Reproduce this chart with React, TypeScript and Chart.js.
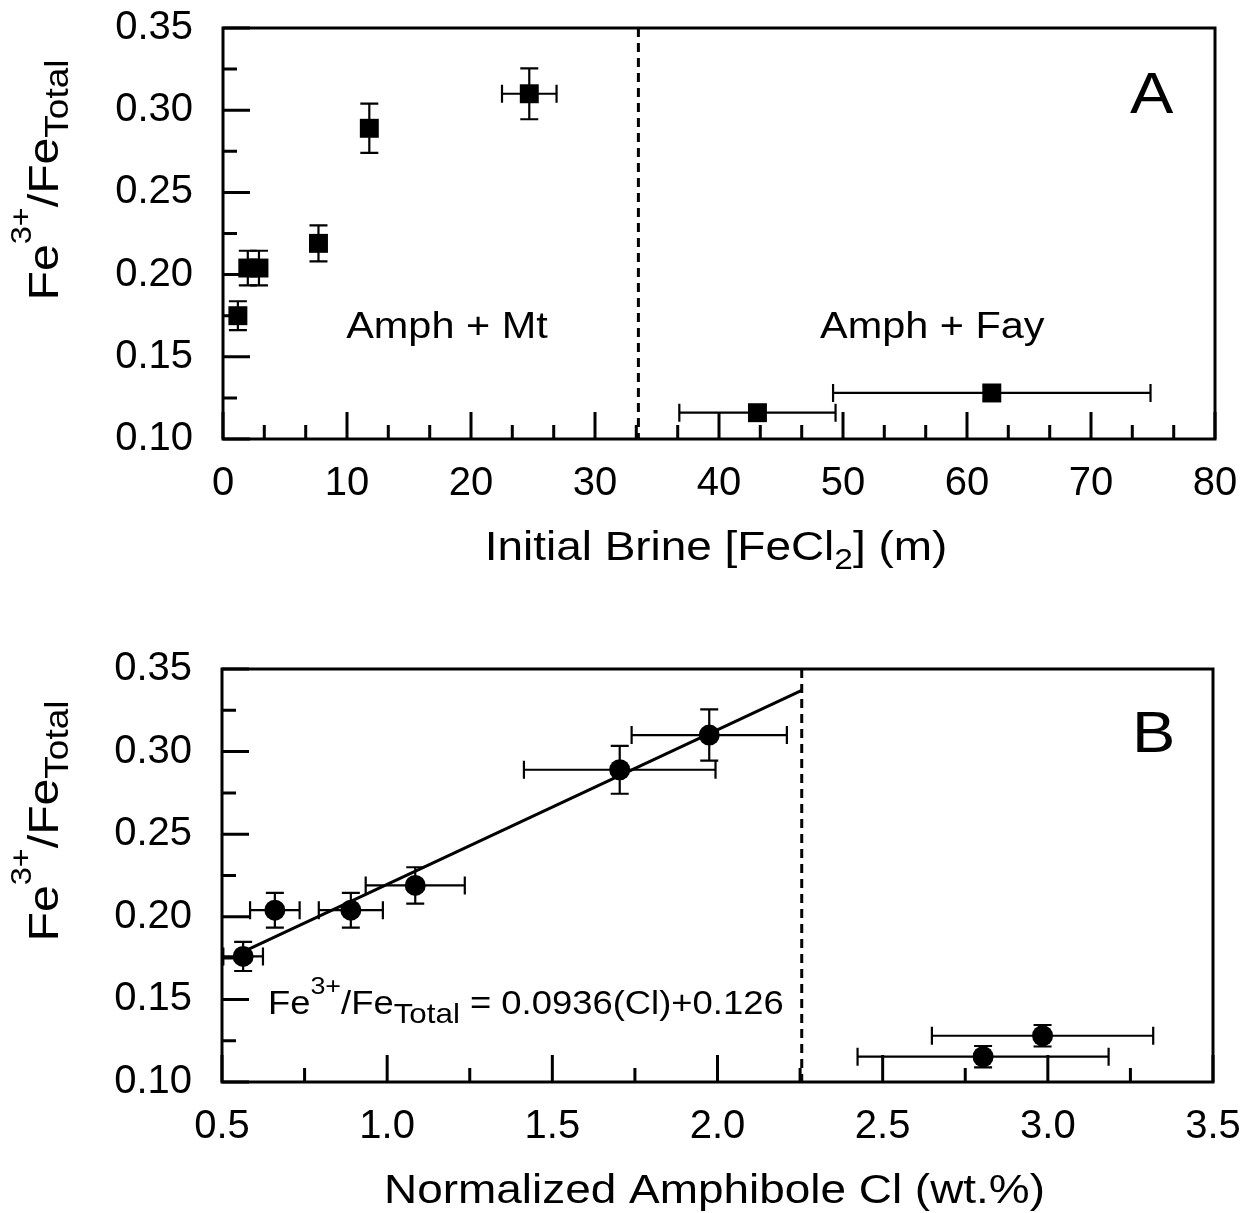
import React, { useEffect, useRef } from "react";
import { Chart, registerables } from "chart.js";

Chart.register(...registerables);

const FONT = "'Liberation Sans', Arial, Helvetica, sans-serif";
const STRETCH = 1.12;

// ---------------- Panel A data ----------------
const brineFeCl2 = [1.2, 2.0, 2.9, 7.7, 11.8, 24.7, 43.1, 62.0];
const brineFeCl2Err = [0, 0, 0, 0, 0, 2.2, 6.3, 12.8];
const ferricA = [0.175, 0.204, 0.204, 0.219, 0.289, 0.31, 0.116, 0.128];
const ferricAErr = [0.0088, 0.0105, 0.0105, 0.011, 0.015, 0.0155, 0.004, 0.004];
const boundaryA = 33.5;

const xMajorA = [0, 10, 20, 30, 40, 50, 60, 70, 80];
const xMinorA = [3.33, 6.67, 13.33, 16.67, 23.33, 26.67, 33.33, 36.67, 43.33, 46.67, 53.33, 56.67, 63.33, 66.67, 73.33, 76.67];

// ---------------- Panel B data ----------------
const amphCl = [0.564, 0.66, 0.89, 1.085, 1.704, 1.975, 2.804, 2.984];
const amphClErr = [0.06, 0.075, 0.097, 0.15, 0.29, 0.235, 0.38, 0.335];
const ferricB = [0.176, 0.204, 0.204, 0.219, 0.289, 0.31, 0.1153, 0.128];
const ferricBErr = [0.0088, 0.0105, 0.0105, 0.011, 0.0145, 0.0155, 0.0065, 0.0065];
const fitSlope = 0.0936;
const fitIntercept = 0.126;
const fitRange = [0.56, 2.255];
const boundaryB = 2.255;

const xMajorB = [0.5, 1.0, 1.5, 2.0, 2.5, 3.0, 3.5];
const xMinorB = [0.75, 1.25, 1.75, 2.25, 2.75, 3.25];

const yMajor = [0.1, 0.15, 0.2, 0.25, 0.3, 0.35];
const yMinor = [0.125, 0.175, 0.225, 0.275, 0.325];

type Seg = { t: string; s: number; dy: number };

function drawRich(ctx: CanvasRenderingContext2D, segs: Seg[], x: number, y: number, align: string, rot = 0) {
  ctx.save();
  ctx.translate(x, y);
  ctx.rotate(rot);
  ctx.scale(STRETCH, 1);
  let total = 0;
  const widths = segs.map((sg) => {
    ctx.font = `${sg.s}px ${FONT}`;
    const w = ctx.measureText(sg.t).width;
    total += w;
    return w;
  });
  let cx = align === "center" ? -total / 2 : 0;
  ctx.textAlign = "left";
  ctx.textBaseline = "alphabetic";
  ctx.fillStyle = "#000";
  segs.forEach((sg, i) => {
    ctx.font = `${sg.s}px ${FONT}`;
    ctx.fillText(sg.t, cx, sg.dy);
    cx += widths[i];
  });
  ctx.restore();
}

const yTitleSegs: Seg[] = [
  { t: "Fe", s: 43, dy: 0 },
  { t: "3+", s: 29, dy: -27 },
  { t: "/Fe", s: 43, dy: 0 },
  { t: "Total", s: 33, dy: 10 },
];

type TextItem = { x: number; y: number; segs: Seg[]; align: string };

type PanelSpec = {
  height: number;
  padTop: number;
  padRight: number;
  yWidth: number;
  xHeight: number;
  xMin: number;
  xMax: number;
  xMajor: number[];
  xMinor: number[];
  xDecimals: number;
  xs: number[];
  xErr: number[];
  ys: number[];
  yErr: number[];
  pointStyle: string;
  radius: number;
  boundary: number;
  fit?: { x: number; y: number }[];
  xTitle: Seg[];
  texts: TextItem[];
};

function decorPlugin(p: PanelSpec) {
  return {
    id: "decor",
    beforeDatasetsDraw(chart: any) {
      const ctx = chart.ctx as CanvasRenderingContext2D;
      const xs = chart.scales.x;
      const ys = chart.scales.y;
      ctx.save();
      ctx.strokeStyle = "#000";
      ctx.lineWidth = 2.2;
      const cap = 9;
      p.xs.forEach((xv, i) => {
        const px = xs.getPixelForValue(xv);
        const py = ys.getPixelForValue(p.ys[i]);
        if (p.yErr[i] > 0) {
          const t = ys.getPixelForValue(p.ys[i] + p.yErr[i]);
          const b = ys.getPixelForValue(p.ys[i] - p.yErr[i]);
          ctx.beginPath();
          ctx.moveTo(px, t); ctx.lineTo(px, b);
          ctx.moveTo(px - cap, t); ctx.lineTo(px + cap, t);
          ctx.moveTo(px - cap, b); ctx.lineTo(px + cap, b);
          ctx.stroke();
        }
        if (p.xErr[i] > 0) {
          const l = xs.getPixelForValue(xv - p.xErr[i]);
          const r = xs.getPixelForValue(xv + p.xErr[i]);
          ctx.beginPath();
          ctx.moveTo(l, py); ctx.lineTo(r, py);
          ctx.moveTo(l, py - cap); ctx.lineTo(l, py + cap);
          ctx.moveTo(r, py - cap); ctx.lineTo(r, py + cap);
          ctx.stroke();
        }
      });
      ctx.restore();
    },
    afterDraw(chart: any) {
      const ctx = chart.ctx as CanvasRenderingContext2D;
      const a = chart.chartArea;
      const xs = chart.scales.x;
      const ys = chart.scales.y;
      ctx.save();
      ctx.strokeStyle = "#000";
      // dashed boundary
      ctx.lineWidth = 3;
      ctx.setLineDash([9, 6]);
      const bx = xs.getPixelForValue(p.boundary);
      ctx.beginPath();
      ctx.moveTo(bx, a.top);
      ctx.lineTo(bx, a.bottom);
      ctx.stroke();
      ctx.setLineDash([]);
      // ticks
      const major = 27;
      const minor = 14;
      ctx.lineWidth = 3;
      ctx.beginPath();
      p.xMajor.forEach((v) => {
        const x = xs.getPixelForValue(v);
        ctx.moveTo(x, a.bottom); ctx.lineTo(x, a.bottom - major);
      });
      p.xMinor.forEach((v) => {
        const x = xs.getPixelForValue(v);
        ctx.moveTo(x, a.bottom); ctx.lineTo(x, a.bottom - minor);
      });
      yMajor.forEach((v) => {
        const y = ys.getPixelForValue(v);
        ctx.moveTo(a.left, y); ctx.lineTo(a.left + major, y);
      });
      yMinor.forEach((v) => {
        const y = ys.getPixelForValue(v);
        ctx.moveTo(a.left, y); ctx.lineTo(a.left + minor, y);
      });
      ctx.stroke();
      // frame
      ctx.lineWidth = 3;
      ctx.strokeRect(a.left, a.top, a.right - a.left, a.bottom - a.top);
      ctx.restore();
      // titles
      drawRich(ctx, p.xTitle, (a.left + a.right) / 2 - 3, a.bottom + 121, "center");
      drawRich(ctx, yTitleSegs, 58, a.top + 152, "center", -Math.PI / 2);
      p.texts.forEach((t) => {
        drawRich(ctx, t.segs, xs.getPixelForValue(t.x), ys.getPixelForValue(t.y), t.align);
      });
    },
  };
}

function buildConfig(p: PanelSpec): any {
  const datasets: any[] = [
    {
      data: p.xs.map((x, i) => ({ x, y: p.ys[i] })),
      pointStyle: p.pointStyle,
      pointRadius: p.radius,
      pointBackgroundColor: "#000",
      pointBorderWidth: 0,
      showLine: false,
    },
  ];
  if (p.fit) {
    datasets.push({
      data: p.fit,
      showLine: true,
      borderColor: "#000",
      borderWidth: 3,
      pointRadius: 0,
    });
  }
  return {
    type: "scatter",
    data: { datasets },
    options: {
      responsive: false,
      animation: false,
      devicePixelRatio: 1,
      layout: { padding: { top: p.padTop, right: p.padRight, left: 0, bottom: 0 } },
      plugins: { legend: { display: false }, tooltip: { enabled: false } },
      scales: {
        x: {
          type: "linear",
          min: p.xMin,
          max: p.xMax,
          afterBuildTicks: (s: any) => {
            s.ticks = p.xMajor.map((v) => ({ value: v }));
          },
          ticks: {
            color: "#000",
            font: { family: FONT, size: 40 },
            padding: 13,
            maxRotation: 0,
            autoSkip: false,
            callback: (v: any) => Number(v).toFixed(p.xDecimals),
          },
          grid: { display: false },
          border: { display: false },
          afterFit: (s: any) => {
            s.height = p.xHeight;
            s.paddingLeft = 0;
            s.paddingRight = 0;
          },
        },
        y: {
          type: "linear",
          min: 0.1,
          max: 0.35,
          afterBuildTicks: (s: any) => {
            s.ticks = yMajor.map((v) => ({ value: v }));
          },
          ticks: {
            color: "#000",
            font: { family: FONT, size: 40 },
            padding: 22,
            autoSkip: false,
            callback: (v: any) => Number(v).toFixed(2),
          },
          grid: { display: false },
          border: { display: false },
          afterFit: (s: any) => {
            s.width = p.yWidth;
            s.paddingTop = 0;
            s.paddingBottom = 0;
          },
        },
      },
    },
    plugins: [decorPlugin(p)],
  };
}

const panelA: PanelSpec = {
  height: 600,
  padTop: 28,
  padRight: 29,
  yWidth: 223,
  xHeight: 161,
  xMin: 0,
  xMax: 80,
  xMajor: xMajorA,
  xMinor: xMinorA,
  xDecimals: 0,
  xs: brineFeCl2,
  xErr: brineFeCl2Err,
  ys: ferricA,
  yErr: ferricAErr,
  pointStyle: "rect",
  radius: 13.4,
  boundary: boundaryA,
  xTitle: [
    { t: "Initial Brine [FeCl", s: 41, dy: 0 },
    { t: "2", s: 30, dy: 9 },
    { t: "] (m)", s: 41, dy: 0 },
  ],
  texts: [
    { x: 18.06, y: 0.1614, segs: [{ t: "Amph + Mt", s: 37, dy: 0 }], align: "center" },
    { x: 57.2, y: 0.1614, segs: [{ t: "Amph + Fay", s: 37, dy: 0 }], align: "center" },
    { x: 74.9, y: 0.298, segs: [{ t: "A", s: 58, dy: 0 }], align: "center" },
  ],
};

const panelB: PanelSpec = {
  height: 613,
  padTop: 69,
  padRight: 31,
  yWidth: 222,
  xHeight: 131,
  xMin: 0.5,
  xMax: 3.5,
  xMajor: xMajorB,
  xMinor: xMinorB,
  xDecimals: 1,
  xs: amphCl,
  xErr: amphClErr,
  ys: ferricB,
  yErr: ferricBErr,
  pointStyle: "circle",
  radius: 10.5,
  boundary: boundaryB,
  fit: fitRange.map((x) => ({ x, y: fitSlope * x + fitIntercept })),
  xTitle: [{ t: "Normalized Amphibole Cl (wt.%)", s: 41, dy: 0 }],
  texts: [
    {
      x: 0.639,
      y: 0.141,
      segs: [
        { t: "Fe", s: 32.5, dy: 0 },
        { t: "3+", s: 24, dy: -20 },
        { t: "/Fe", s: 32.5, dy: 0 },
        { t: "Total", s: 28, dy: 9 },
        { t: " = 0.0936(Cl)+0.126", s: 32.5, dy: 0 },
      ],
      align: "left",
    },
    { x: 3.32, y: 0.2998, segs: [{ t: "B", s: 58, dy: 0 }], align: "center" },
  ],
};

function Panel({ spec, top }: { spec: PanelSpec; top: number }) {
  const ref = useRef<HTMLCanvasElement>(null);
  useEffect(() => {
    const chart = new Chart(ref.current as HTMLCanvasElement, buildConfig(spec));
    return () => chart.destroy();
  }, []);
  return (
    <canvas
      ref={ref}
      width={1244}
      height={spec.height}
      style={{ position: "absolute", left: 0, top, width: 1244, height: spec.height, display: "block" }}
    />
  );
}

export default function App() {
  return (
    <div style={{ position: "absolute", left: 0, top: 0, width: 1244, height: 1213, background: "#fff", overflow: "hidden" }}>
      <Panel spec={panelA} top={0} />
      <Panel spec={panelB} top={600} />
    </div>
  );
}
